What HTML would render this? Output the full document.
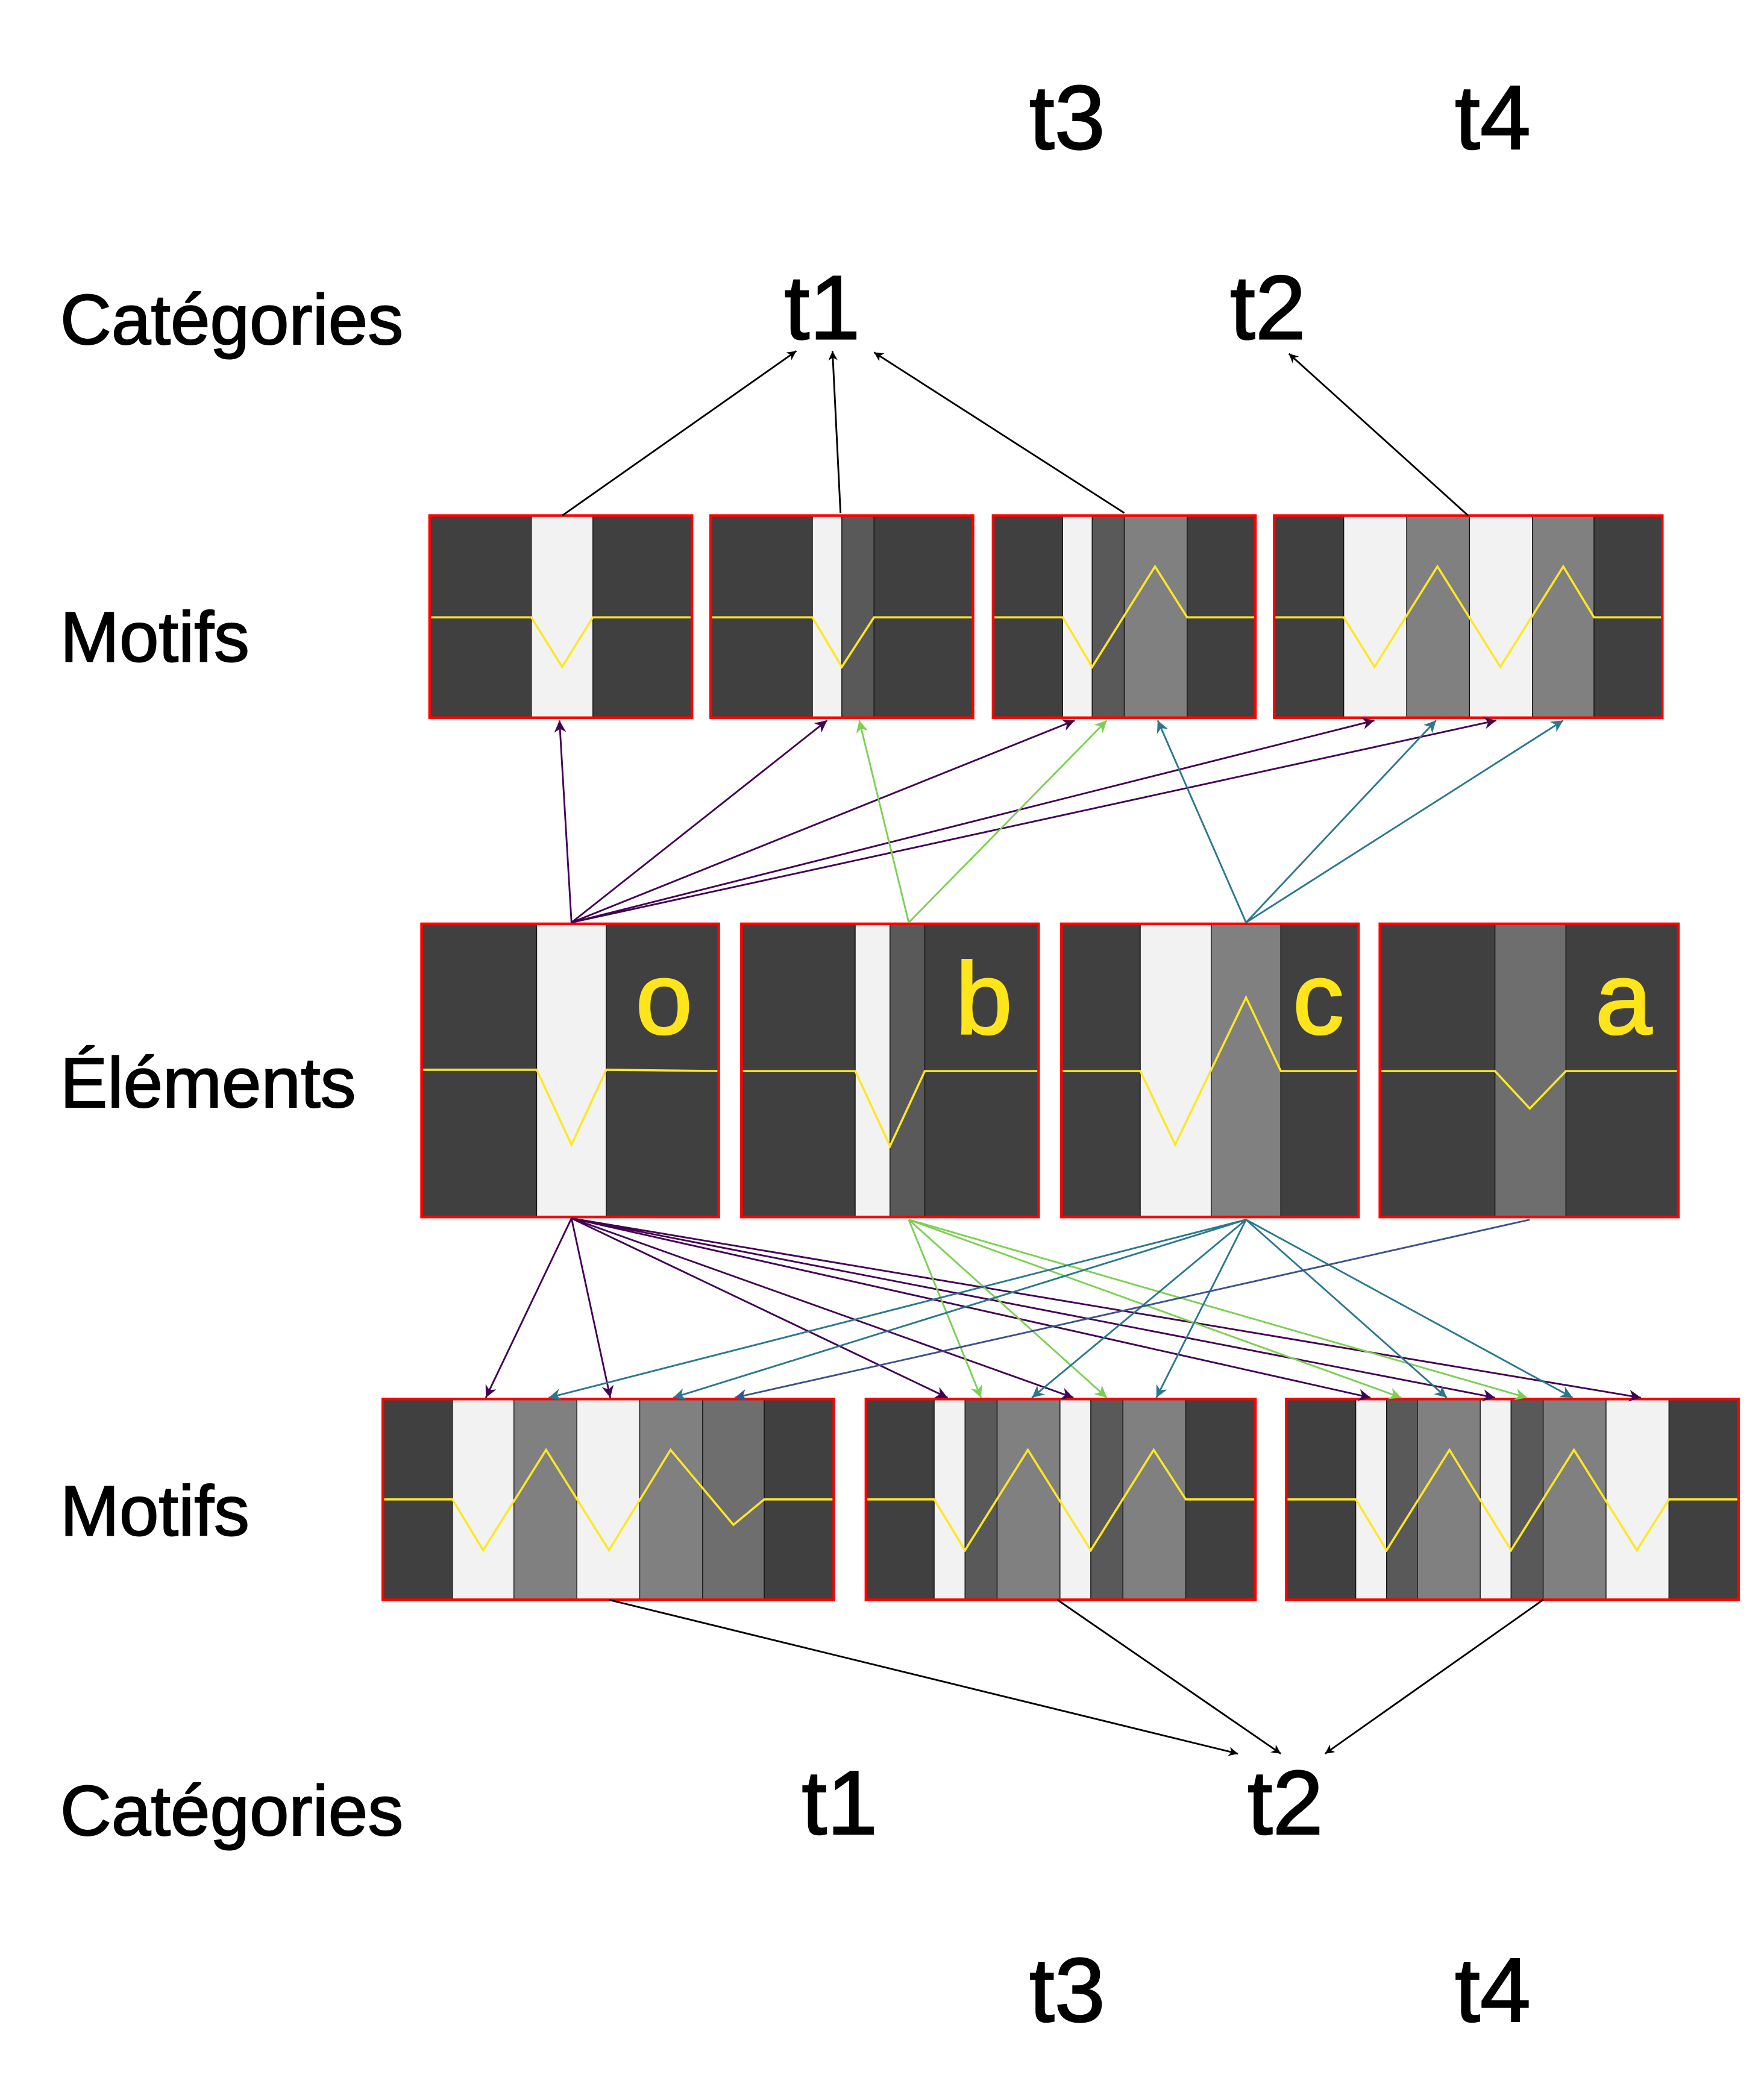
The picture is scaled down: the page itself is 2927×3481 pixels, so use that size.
<!DOCTYPE html>
<html><head><meta charset="utf-8"><style>
html,body{margin:0;padding:0;background:#fff;}
svg{display:block;}
text{font-family:"Liberation Sans",sans-serif;}
</style></head><body>
<svg width="2927" height="3481" viewBox="0 0 1318 1567" xmlns="http://www.w3.org/2000/svg">
<defs>
<marker id="mk" viewBox="0 0 10 10" refX="10" refY="5" markerWidth="7" markerHeight="7" orient="auto-start-reverse" markerUnits="userSpaceOnUse"><path d="M0,0 L10,5 L0,10 L3,5 z" fill="#000"/></marker>
<marker id="mp" viewBox="0 0 10 10" refX="10" refY="5" markerWidth="9" markerHeight="9" orient="auto" markerUnits="userSpaceOnUse"><path d="M0,0 L10,5 L0,10 L3,5 z" fill="#440154"/></marker>
<marker id="mg" viewBox="0 0 10 10" refX="10" refY="5" markerWidth="9" markerHeight="9" orient="auto" markerUnits="userSpaceOnUse"><path d="M0,0 L10,5 L0,10 L3,5 z" fill="#7ad151"/></marker>
<marker id="mt" viewBox="0 0 10 10" refX="10" refY="5" markerWidth="9" markerHeight="9" orient="auto" markerUnits="userSpaceOnUse"><path d="M0,0 L10,5 L0,10 L3,5 z" fill="#2a788e"/></marker>
<marker id="mb" viewBox="0 0 10 10" refX="10" refY="5" markerWidth="9" markerHeight="9" orient="auto" markerUnits="userSpaceOnUse"><path d="M0,0 L10,5 L0,10 L3,5 z" fill="#3b528b"/></marker>
</defs>
<g id="boxes"></g>
<g id="arrows"></g>
<g font-size="53" fill="#000" stroke="#000" stroke-width="0.9">
<text x="45" y="257">Catégories</text>
<text x="45" y="494">Motifs</text>
<text x="45" y="827">Éléments</text>
<text x="45" y="1147">Motifs</text>
<text x="45" y="1371">Catégories</text>
</g>
<g font-size="68" fill="#000" stroke="#000" stroke-width="1">
<text x="769" y="111">t3</text>
<text x="1087" y="111">t4</text>
<text x="586" y="253">t1</text>
<text x="919" y="253">t2</text>
<text x="599" y="1370">t1</text>
<text x="932" y="1370">t2</text>
<text x="769" y="1510">t3</text>
<text x="1087" y="1510">t4</text>
</g>
<g font-size="76" fill="#ffe51a" stroke="#ffe51a" stroke-width="1.5">
<text x="475" y="772">o</text>
<text x="714" y="772">b</text>
<text x="966" y="772">c</text>
<text x="1192" y="772">a</text>
</g>
</svg>
<script>
const NS="http://www.w3.org/2000/svg";
const D="#404040",L="#f2f2f2",M="#595959",G="#808080",N="#6e6e6e";
const boxNames=["motif-top-1","motif-top-2","motif-top-3","motif-top-4","element-o","element-b","element-c","element-a","motif-bottom-1","motif-bottom-2","motif-bottom-3"];
const boxY=[[385,536],[385,536],[385,536],[385,536],[690,909],[690,909],[690,909],[690,909],[1045,1195],[1045,1195],[1045,1195]];
const boxEdges=[
[321,397,443,517],
[531,607,629,653,727],
[742,794,816,840,887,938],
[952,1004,1051,1098,1145,1191,1242],
[315,401,453,537],
[554,639,665,691,776],
[793,852,905,957,1015],
[1031,1117,1170,1254],
[286,338,384,431,478,525,571,623],
[647,698,721,745,792,815,839,886,938],
[961,1013,1036,1059,1106,1129,1153,1200,1247,1299]];
const boxColors=[
[D,L,D],[D,L,M,D],[D,L,M,G,D],[D,L,G,L,G,D],
[D,L,D],[D,L,M,D],[D,L,G,D],[D,N,D],
[D,L,G,L,G,N,D],[D,L,M,G,L,M,G,D],[D,L,M,G,L,M,G,L,D]];
const boxLines=[
[[321,461],[397,461],[420,498],[443,461],[517,461]],
[[531,461],[607,461],[629,498],[653,461],[727,461]],
[[742,461],[794,461],[816,498],[863,423],[887,461],[938,461]],
[[952,461],[1004,461],[1027,498],[1074,423],[1121,498],[1168,423],[1191,461],[1242,461]],
[[315,799],[401,799],[427,855],[453,799],[537,800]],
[[554,800],[639,800],[665,856],[691,800],[776,800]],
[[793,800],[852,800],[878,855],[931,745],[957,800],[1015,800]],
[[1031,800],[1117,800],[1143,828],[1170,800],[1254,800]],
[[286,1120],[338,1120],[361,1158],[408,1083],[455,1158],[501,1083],[548,1139],[571,1120],[623,1120]],
[[647,1120],[698,1120],[721,1158],[768,1083],[815,1158],[862,1083],[886,1120],[938,1120]],
[[961,1120],[1013,1120],[1036,1158],[1083,1083],[1129,1158],[1176,1083],[1223,1158],[1247,1120],[1299,1120]]];
const gb=document.getElementById("boxes");
boxNames.forEach((nm,i)=>{
  const g=document.createElementNS(NS,"g");
  
  
  const [y0,y1]=boxY[i],e=boxEdges[i];
  for(let k=0;k<e.length-1;k++){
    const r=document.createElementNS(NS,"rect");
    
    
    r.setAttribute("x",e[k]);r.setAttribute("y",y0);r.setAttribute("width",e[k+1]-e[k]);r.setAttribute("height",y1-y0);
    r.setAttribute("fill",boxColors[i][k]);r.setAttribute("stroke","#111");r.setAttribute("stroke-width","0.6");
    g.appendChild(r);
  }
  const p=document.createElementNS(NS,"polyline");
  
  
  p.setAttribute("points",boxLines[i].map(q=>q.join(",")).join(" "));
  p.setAttribute("fill","none");p.setAttribute("stroke","#fde725");p.setAttribute("stroke-width","1.6");
  g.appendChild(p);
  const b=document.createElementNS(NS,"rect");
  
  
  b.setAttribute("x",e[0]);b.setAttribute("y",y0);b.setAttribute("width",e[e.length-1]-e[0]);b.setAttribute("height",y1-y0);
  b.setAttribute("fill","none");b.setAttribute("stroke","#ff0000");b.setAttribute("stroke-width","2");
  g.appendChild(b);
  gb.appendChild(g);
});
const arrowList=[
[420,385,595,262,"#000","mk"],[628,383,622,262,"#000","mk"],[840,383,653,263,"#000","mk"],[1097,385,963,264,"#000","mk"],
[427,689,418,538,"#440154","mp"],[427,689,618,538,"#440154","mp"],[427,689,803,538,"#440154","mp"],[427,689,1027,538,"#440154","mp"],[427,689,1118,538,"#440154","mp"],
[679,689,642,538,"#7ad151","mg"],[679,689,827,538,"#7ad151","mg"],
[931,689,865,538,"#2a788e","mt"],[931,689,1073,538,"#2a788e","mt"],[931,689,1168,538,"#2a788e","mt"],
[427,910,363,1044,"#440154","mp"],[427,910,456,1044,"#440154","mp"],[427,910,708,1044,"#440154","mp"],[427,910,802,1044,"#440154","mp"],[427,910,1024,1044,"#440154","mp"],[427,910,1117,1044,"#440154","mp"],[427,910,1226,1044,"#440154","mp"],
[679,911,733,1044,"#7ad151","mg"],[679,911,827,1044,"#7ad151","mg"],[679,911,1047,1044,"#7ad151","mg"],[679,911,1141,1044,"#7ad151","mg"],
[931,911,410,1044,"#2a788e","mt"],[931,911,503,1044,"#2a788e","mt"],[931,911,771,1044,"#2a788e","mt"],[931,911,864,1044,"#2a788e","mt"],[931,911,1081,1044,"#2a788e","mt"],[931,911,1175,1044,"#2a788e","mt"],
[1143,911,549,1044,"#3b528b","mb"],
[455,1195,925,1310,"#000","mk"],[790,1195,957,1310,"#000","mk"],[1153,1195,990,1310,"#000","mk"]];
const ga=document.getElementById("arrows");
arrowList.forEach(a=>{
  const l=document.createElementNS(NS,"line");
  
  
  l.setAttribute("x1",a[0]);l.setAttribute("y1",a[1]);l.setAttribute("x2",a[2]);l.setAttribute("y2",a[3]);
  l.setAttribute("stroke",a[4]);l.setAttribute("stroke-width","1.3");l.setAttribute("marker-end","url(#"+a[5]+")");
  ga.appendChild(l);
});
</script>
</body></html>
